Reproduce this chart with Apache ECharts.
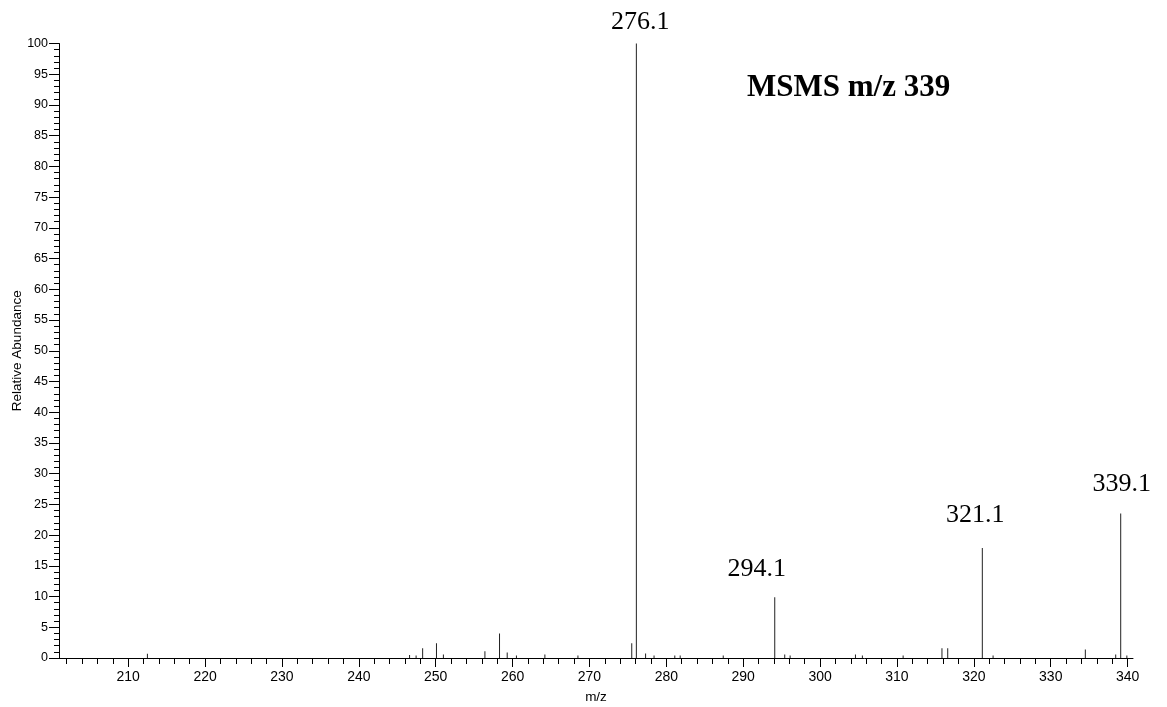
<!DOCTYPE html>
<html>
<head>
<meta charset="utf-8">
<script src="https://cdn.jsdelivr.net/npm/echarts@6/dist/echarts.min.js"></script>
<style>html,body{margin:0;padding:0;background:#fff;}#c{width:1167px;height:707px;}</style>
</head>
<body>
<div id="c"></div>
<script>
// ---- data ----
const peakMz = [212.5, 246.6, 247.45, 248.3, 250.1, 251.0, 256.4, 258.3, 259.3, 260.5,
  264.2, 268.5, 275.5, 276.1, 277.3, 278.4, 281.1, 281.8, 287.4, 294.1, 295.4, 296.1,
  304.6, 305.5, 310.8, 315.85, 316.6, 321.1, 322.5, 334.5, 338.45, 339.1, 339.9];
const peakAbundance = [0.7, 0.5, 0.4, 1.6, 2.4, 0.55, 1.1, 4.0, 0.9, 0.4,
  0.55, 0.4, 2.4, 100, 0.75, 0.4, 0.4, 0.4, 0.4, 9.9, 0.55, 0.4,
  0.55, 0.4, 0.4, 1.6, 1.6, 17.9, 0.4, 1.4, 0.55, 23.5, 0.4];
const labelledMz = [276.1, 294.1, 321.1, 339.1];
const xLabelValues = [210, 220, 230, 240, 250, 260, 270, 280, 290, 300, 310, 320, 330, 340];
const xMinorTickValues = [];
for (let v = 202; v <= 340; v += 2) xMinorTickValues.push(v);
const titleText = 'MSMS m/z 339';
const xName = 'm/z';
const yName = 'Relative Abundance';

// ---- styling (not data) ----
const labelOffsets = {'276.1': [4, -8], '294.1': [-18, -15], '321.1': [-7, -20], '339.1': [1, -16]};
const serif = '"Liberation Serif", "Times New Roman", serif';
const sans = '"Liberation Sans", Arial, sans-serif';

const seriesData = peakMz.map((mz, i) => {
  const item = {value: [mz, peakAbundance[i]]};
  if (labelledMz.indexOf(mz) >= 0) {
    item.label = {
      show: true, position: 'top', distance: 0,
      offset: labelOffsets[mz.toFixed(1)],
      formatter: (p) => p.value[0].toFixed(1),
      fontFamily: serif, fontSize: 26, color: '#000'
    };
  }
  return item;
});

const chart = echarts.init(document.getElementById('c'), null, {renderer: 'canvas'});
const xMin = 201, xMax = 340.7;
chart.setOption({
  animation: false,
  backgroundColor: '#fff',
  title: {
    text: titleText, left: 742, top: 67,
    textStyle: {fontFamily: serif, fontSize: 31, fontWeight: 'bold', color: '#000'}
  },
  grid: {left: 59, right: 34, top: 43.5, bottom: 49, containLabel: false, outerBoundsMode: 'none'},
  xAxis: [{
    type: 'value', min: xMin, max: xMax, position: 'bottom',
    name: xName, nameLocation: 'middle', nameGap: 32, nameMoveOverlap: false,
    nameTextStyle: {fontFamily: sans, fontSize: 13.5, color: '#000'},
    axisLine: {show: true, lineStyle: {color: '#000', width: 1}},
    axisTick: {show: true, length: 9, customValues: xLabelValues, lineStyle: {color: '#000'}},
    axisLabel: {customValues: xLabelValues, fontFamily: sans, fontSize: 14, color: '#000', margin: 12},
    splitLine: {show: false}
  }, {
    type: 'value', min: xMin, max: xMax, position: 'bottom', offset: 0,
    axisLine: {show: false},
    axisTick: {show: true, length: 6, customValues: xMinorTickValues, lineStyle: {color: '#000'}},
    axisLabel: {show: false},
    splitLine: {show: false}
  }],
  yAxis: {
    type: 'value', min: 0, max: 100, interval: 5,
    name: yName, nameLocation: 'middle', nameGap: 34.5, nameMoveOverlap: false,
    nameTextStyle: {fontFamily: sans, fontSize: 13.5, color: '#000'},
    axisLine: {show: true, lineStyle: {color: '#000', width: 1}},
    axisTick: {show: true, length: 10, lineStyle: {color: '#000'}},
    minorTick: {show: true, splitNumber: 5, length: 5, lineStyle: {color: '#000'}},
    axisLabel: {fontFamily: sans, fontSize: 12.5, color: '#000', margin: 11},
    splitLine: {show: false}
  },
  series: [{
    type: 'bar', xAxisIndex: 0, barWidth: 1,
    itemStyle: {color: '#222'},
    data: seriesData
  }]
});
</script>
</body>
</html>
